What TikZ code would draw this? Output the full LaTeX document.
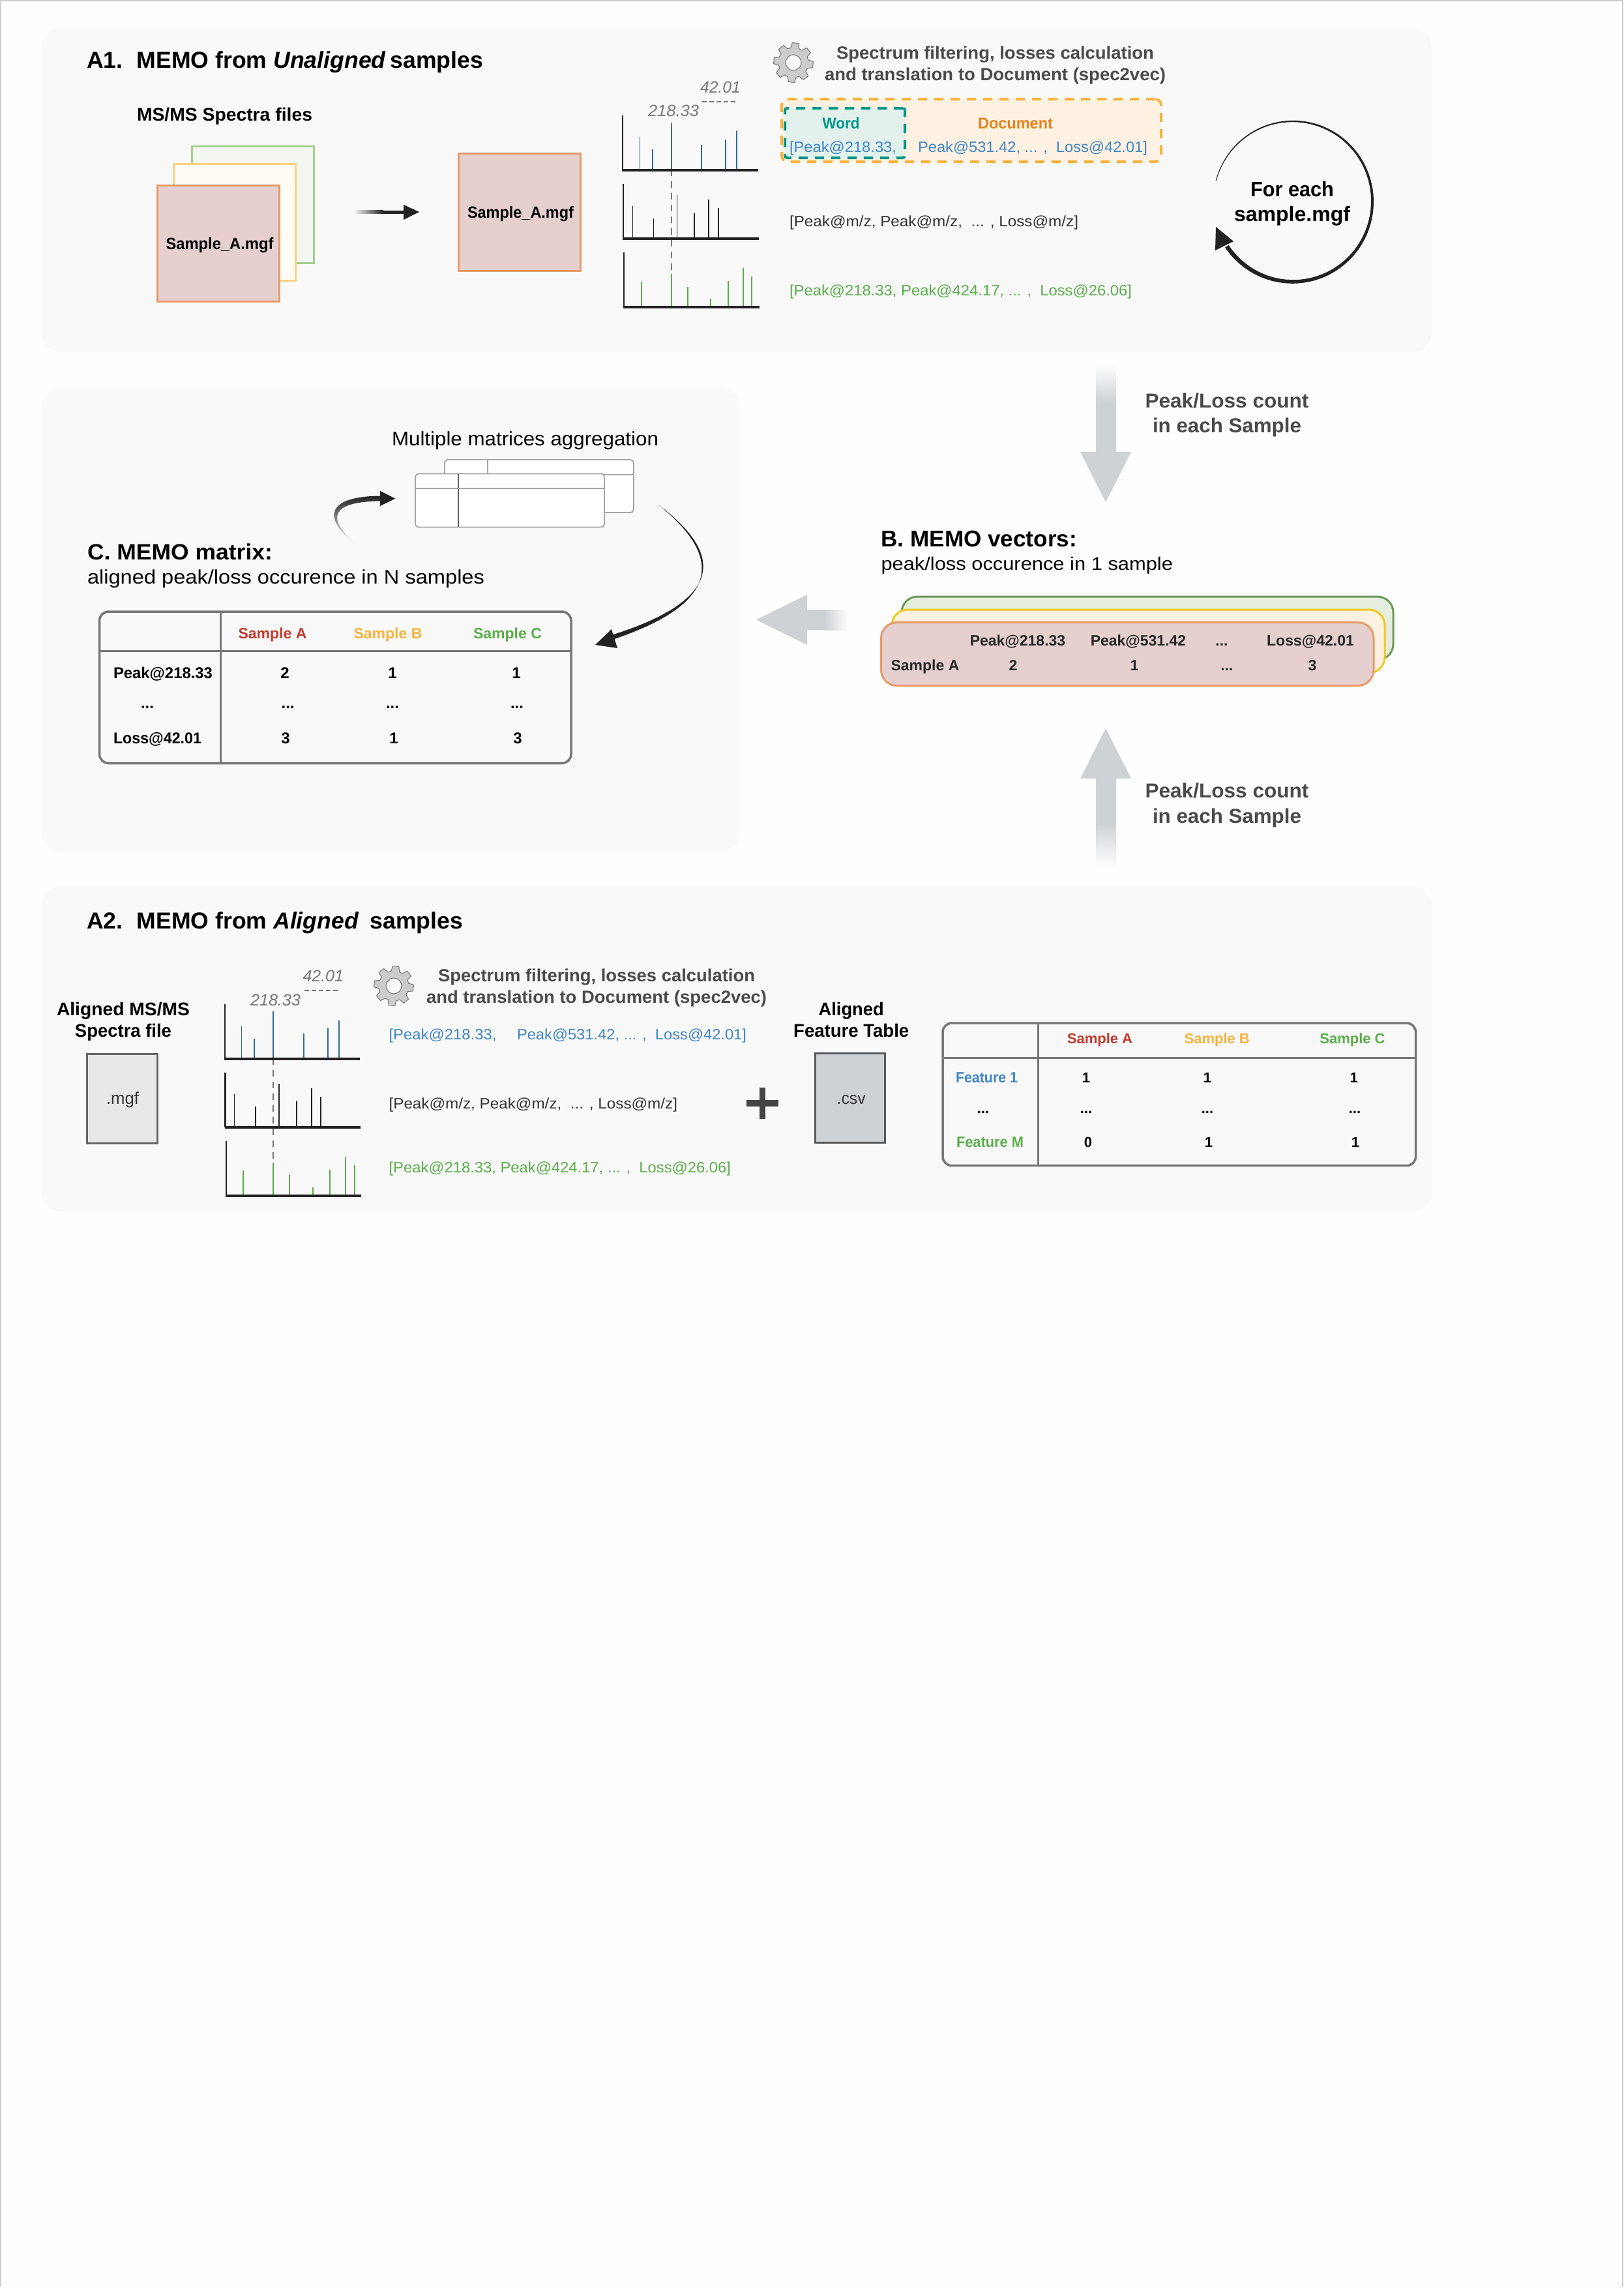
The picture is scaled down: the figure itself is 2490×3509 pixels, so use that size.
\documentclass[tikz,border=0pt]{standalone}
\usepackage{fontspec}
\usepackage{graphicx}
\setmainfont{Liberation Sans}
\usetikzlibrary{calc}
\definecolor{pagebg}{HTML}{FEFEFE}
\definecolor{panelbg}{HTML}{F9F9F9}
\definecolor{framec}{HTML}{CCCCCC}
\definecolor{inkd}{HTML}{222222}
\definecolor{txtg}{HTML}{4A4A4A}
\definecolor{numg}{HTML}{777777}
\definecolor{arrowg}{HTML}{CED2D5}
\definecolor{redf}{HTML}{E5CFCF}
\definecolor{reds}{HTML}{E89A68}
\definecolor{yelf}{HTML}{FEFCF5}
\definecolor{yels}{HTML}{F6D27E}
\definecolor{grnf}{HTML}{F4F7F0}
\definecolor{grns}{HTML}{A5D08E}
\definecolor{docf}{HTML}{FDF1E1}
\definecolor{docs}{HTML}{F7B23E}
\definecolor{wordf}{HTML}{E2F1EC}
\definecolor{teal}{HTML}{009688}
\definecolor{orng}{HTML}{E8821E}
\definecolor{blu}{HTML}{3F86C8}
\definecolor{peakb}{HTML}{2F6AA3}
\definecolor{grn}{HTML}{5AAE4A}
\definecolor{samr}{HTML}{C33A2E}
\definecolor{samy}{HTML}{F7B23E}
\definecolor{tabl}{HTML}{777777}
\definecolor{vgf}{HTML}{E6EEE0}
\definecolor{vgs}{HTML}{6A9A5A}
\definecolor{vys}{HTML}{F2C81E}
\newcommand\fs[1]{\fontsize{#1}{#1}\selectfont}
\newcommand\threedots{...}
\tikzset{
 txt/.style={anchor=base west,inner sep=0pt,outer sep=0pt},
 ctxt/.style={anchor=base,inner sep=0pt,outer sep=0pt},
 panel/.style={fill=panelbg,draw=none,rounded corners=30pt},
 file/.style={anchor=north west,inner sep=0pt,outer sep=0pt,line width=3pt,sharp corners},
 redfile/.style={file,fill=redf,draw=reds},
 yelfile/.style={file,fill=yelf,draw=yels},
 grnfile/.style={file,fill=grnf,draw=grns},
 spaxis/.style={draw=inkd,line width=2.5pt},
 spbase/.style={draw=inkd,line width=3.5pt},
 peakblue/.style={draw=peakb,line width=1.6pt},
 peakblack/.style={draw=inkd,line width=1.6pt},
 peakgreen/.style={draw=grn,line width=1.6pt},
 guide/.style={draw=numg,line width=1.3pt,dash pattern=on 10pt off 8pt},
 guideb/.style={draw=numg,line width=1.6pt,dash pattern=on 7pt off 4pt},
 datatab/.style={anchor=north west,inner sep=0pt,outer sep=0pt,draw=tabl,line width=3.5pt,rounded corners=14pt},
 tabline/.style={draw=tabl,line width=3pt},
 cell/.style={ctxt,font=\fs{24}\bfseries},
 cellh/.style={ctxt,font=\fs{23}\bfseries},
 cellb/.style={ctxt,font=\fs{22}\bfseries},
 vcell/.style={ctxt,font=\fs{23}\bfseries,text=black!85},
 vbox/.style={anchor=north west,inner sep=0pt,outer sep=0pt,line width=3pt,rounded corners=24pt},
 mini/.style={anchor=north west,inner sep=0pt,outer sep=0pt,fill=white,draw=black!35,line width=1.8pt,rounded corners=5pt},
 miniline/.style={draw=black!35,line width=1.8pt},
 gearbody/.style={fill=black!20!white,draw=black!55,line width=1pt},
 gearpic/.pic={
  \path[gearbody] (23:23pt) \foreach \i [evaluate=\i as \a using 39+45*\i] in {0,...,7} {
    -- ({\a-16}:23pt) -- ({\a-9}:30.5pt) -- ({\a+9}:30.5pt) -- ({\a+16}:23pt) } -- cycle;
  \path[fill=panelbg,draw=black!55,line width=1pt] (0,0) circle (12pt);
 }
}
% name, x, y, width, size, text (width is stretched to the printed width)
\newcommand\tx[7][]{\node[txt,font=\fs{#6},#1] (#2) at (#3,#4) {\resizebox{#5pt}{\height}{#7}};}
\newcommand\tc[7][]{\node[ctxt,font=\fs{#6},#1] (#2) at (#3,#4) {\resizebox{#5pt}{\height}{#7}};}
\begin{document}
\begin{tikzpicture}[x=1pt,y=-1pt]
\useasboundingbox (0,0) rectangle (2490,3509);
\fill[pagebg] (0,0) rectangle (2490,3509);
\draw[framec,line width=2pt] (1,3507) -- (1,1) -- (2489,1) -- (2489,3507);
% panels
\fill[panel] (64,42) rectangle (2196,540);
\fill[panel] (64,594) rectangle (1134,1307);
\fill[panel] (64,1360) rectangle (2196,1858);

%% ---------- A1 ----------
\tx[text=black]{titleA}{133}{104}{608}{35.5}{\bfseries A1.\hspace{0.6em}MEMO from \textit{Unaligned}\hspace{-0.1em} samples}
\tx{msfiles}{210}{185.5}{269}{28}{\bfseries MS/MS Spectra files}
\node[grnfile,minimum width=187pt,minimum height=179pt] (fileC) at (294,224) {};
\node[yelfile,minimum width=187pt,minimum height=179pt] (fileB) at (266,251) {};
\node[redfile,minimum width=187pt,minimum height=178pt] (fileA) at (241,284) {};
\tx{fileAt}{254.5}{382}{165}{25}{\bfseries Sample\_A.mgf}
\node[redfile,minimum width=187pt,minimum height=180pt] (fileOne) at (703,235.5) {};
\tx{fileOnet}{717}{334}{163}{25}{\bfseries Sample\_A.mgf}
\coordinate (arrS) at (543,325);
\coordinate (arrM) at (620,325);
\coordinate (arrT) at (643,325);
\shade[left color=panelbg,right color=inkd] ($(arrS)+(0,-2.5)$) rectangle ($(arrS)+(45,2.5)$);
\fill[inkd] ($(arrS)+(44,-2.5)$) rectangle ($(arrM)+(1,2.5)$);
\fill[inkd] (arrT) -- (619,314) -- (619,337) -- cycle;
% spectra A1
\draw[guide] (1030,188) -- (1030,422);
\foreach \x/\t in {981.6/210,1001/229,1030/194,1076/222,1113/214,1130/201} \draw[peakblue] (\x,260) -- (\x,\t);
\foreach \x/\t in {970.5/315.5,1002.6/334.5,1038.5/299,1065/327,1087/306,1102/318.6} \draw[peakblack] (\x,366) -- (\x,\t);
\foreach \x/\t in {984/432,1030/420,1055/440,1090/458,1117/431,1140/411,1153/424} \draw[peakgreen] (\x,471) -- (\x,\t);
\draw[spaxis] (955,177) -- (955,261);
\draw[spbase] (954,261) -- (1163,261);
\draw[spaxis] (956,282) -- (956,366);
\draw[spbase] (955,366) -- (1164,366);
\draw[spaxis] (957,387) -- (957,471);
\draw[spbase] (956,471) -- (1165,471);
\tx[text=numg]{mzA}{994}{178.6}{78}{25}{\itshape 218.33}
\tx[text=numg]{lossA}{1074}{142}{62}{25}{\itshape 42.01}
\draw[guideb] (1077,156) -- (1129,156);
\pic (gearA) at (1217,96) {gearpic};
\tx[text=txtg]{filtA1}{1283}{90.7}{487}{27}{\bfseries Spectrum filtering, losses calculation}
\tx[text=txtg]{filtA2}{1265}{123.4}{523}{27}{\bfseries and translation to Document (spec2vec)}
\node[anchor=north west,inner sep=0pt,outer sep=0pt,fill=docf,draw=docs,line width=4pt,dash pattern=on 14pt off 11pt,rounded corners=9pt,minimum width=582pt,minimum height=96pt] (docBox) at (1199,152) {};
\node[anchor=north west,inner sep=0pt,outer sep=0pt,fill=wordf,draw=teal,line width=4pt,dash pattern=on 14pt off 11pt,rounded corners=3pt,minimum width=184pt,minimum height=76pt] (wordBox) at (1204,166) {};
\tc[text=teal]{wordt}{1290}{197.6}{57}{24}{\bfseries Word}
\tc[text=orng]{doct}{1557.5}{197.6}{115}{24}{\bfseries Document}
\tx[text=blu]{w1}{1211}{233}{164}{23}{[Peak@218.33,}
\tx[text=blu]{w2}{1408}{233}{352}{23}{Peak@531.42, ... ,\ \ Loss@42.01]}
\tx[text=black!80]{w3}{1211}{347.6}{443}{23}{[Peak@m/z, Peak@m/z,\ \ ... , Loss@m/z]}
\tx[text=grn]{w4}{1211}{453}{525}{23}{[Peak@218.33, Peak@424.17, ... ,\ \ Loss@26.06]}
% loop arrow
\fill[inkd] plot[domain=165:-146,samples=90,smooth] ({1983+(122+(0.5+2.8*(165-\x)/311))*cos(\x)},{309-(123+(0.5+2.8*(165-\x)/311))*sin(\x)})
  -- plot[domain=-146:165,samples=90,smooth] ({1983+(122-(0.5+2.8*(165-\x)/311))*cos(\x)},{309-(123-(0.5+2.8*(165-\x)/311))*sin(\x)}) -- cycle;
\coordinate (loopT) at (1865,348);
\fill[inkd] (loopT) -- (1892,370) -- (1864,384) -- cycle;
\tc{loop1}{1982}{301}{128}{32}{\bfseries For each}
\tc{loop2}{1982}{339}{178}{32}{\bfseries sample.mgf}

%% ---------- big arrows ----------
\shade[top color=pagebg,bottom color=arrowg] (1681,558) rectangle (1712,617);
\fill[arrowg] (1681,616) -- (1712,616) -- (1712,693) -- (1735,693) -- (1696,770) -- (1657,693) -- (1681,693) -- cycle;
\tc[text=txtg]{cnt1}{1882}{625.5}{251}{31}{\bfseries Peak/Loss count}
\tc[text=txtg]{cnt2}{1882}{663}{228}{31}{\bfseries in each Sample}
\shade[left color=arrowg,right color=pagebg] (1264,935) rectangle (1302,966);
\fill[arrowg] (1265,935) -- (1265,966) -- (1238,966) -- (1238,989) -- (1160,950.5) -- (1238,912) -- (1238,935) -- cycle;
\shade[bottom color=pagebg,top color=arrowg] (1681,1263) rectangle (1712,1330);
\fill[arrowg] (1681,1264) -- (1712,1264) -- (1712,1194) -- (1735,1194) -- (1696,1117) -- (1657,1194) -- (1681,1194) -- cycle;
\tc[text=txtg]{cnt3}{1882}{1223.5}{251}{31}{\bfseries Peak/Loss count}
\tc[text=txtg]{cnt4}{1882}{1262}{228}{31}{\bfseries in each Sample}

%% ---------- B ----------
\tx{titleB}{1351.5}{838}{300.5}{35}{\bfseries B. MEMO vectors:}
\tx{subB}{1351.5}{874}{447.5}{28}{peak/loss occurence in 1 sample}
\node[vbox,fill=vgf,draw=vgs,minimum width=754pt,minimum height=97pt] (vecC) at (1383,915) {};
\node[vbox,fill=docf,draw=vys,minimum width=756pt,minimum height=97pt] (vecB) at (1368,935) {};
\node[vbox,fill=redf,draw=reds,minimum width=755.5pt,minimum height=97pt] (vecA) at (1351.5,954.6) {};
\foreach \n/\x/\s in {a/1561/Peak@218.33,b/1746/Peak@531.42,c/1874/\threedots,d/2010/Loss@42.01}
  \node[vcell] (vh\n) at (\x,990) {\s};
\foreach \n/\x/\s in {a/1419/Sample A,b/1554/2,c/1740/1,d/1882/\threedots,e/2013/3}
  \node[vcell] (vr\n) at (\x,1028.6) {\s};

%% ---------- C ----------
\tx{multi}{601}{683}{409}{30}{Multiple matrices aggregation}
\node[mini,minimum width=290pt,minimum height=81pt] (miniB) at (682,705) {};
\draw[miniline] (748,705) -- (748,786);
\draw[miniline] (682,728) -- (972,728);
\node[mini,minimum width=290pt,minimum height=82pt] (miniA) at (637,726.5) {};
\draw[miniline,draw=black!60] (702.6,726.5) -- (702.6,808);
\draw[miniline] (637,749) -- (927,749);
% aggregation arrows
\coordinate (inS) at (546,835);
\shade[top color=inkd,middle color=inkd,bottom color=panelbg] (inS) .. controls (494,795) and (499,761) .. (585,760.5) -- (585,768.5) .. controls (506,769) and (500,795) .. (inS) -- cycle;
\fill[inkd] (606.5,764.6) -- (583,753) -- (583,776) -- cycle;
\coordinate (outS) at (1011,775);
\fill[inkd] (outS) .. controls (1090,835) and (1136,912) .. (938,974) -- (942,980) .. controls (1132,916) and (1087,837) .. (outS) -- cycle;
\fill[inkd] (913,989) -- (938,965) -- (947,994) -- cycle;
\tx{titleC}{134}{858.6}{284}{34}{\bfseries C. MEMO matrix:}
\tx{subC}{134}{895}{609}{30}{aligned peak/loss occurence in N samples}
\node[datatab,minimum width=723.5pt,minimum height=232.5pt] (tabC) at (152.5,938) {};
\draw[tabline] (338,938) -- (338,1170.5);
\draw[tabline] (152.5,998) -- (876,998);
\node[cellh,text=samr] (cA) at (418,979) {Sample A};
\node[cellh,text=samy] (cB) at (595,979) {Sample B};
\node[cellh,text=grn] (cC) at (778.5,979) {Sample C};
\tx{cr1}{174}{1040}{152}{24}{\bfseries Peak@218.33}
\tx{cr3}{174}{1140}{135}{24}{\bfseries Loss@42.01}
\node[cell] (cr2) at (226,1086) {...};
\foreach \n/\x/\y/\s in {a/437/1040/2,b/602/1040/1,c/792/1040/1,d/441.6/1086/\threedots,e/602/1086/\threedots,f/793/1086/\threedots,g/438/1140/3,h/604/1140/1,i/794/1140/3}
  \node[cell] (cv\n) at (\x,\y) {\s};

%% ---------- A2 ----------
\tx{titleA2}{133}{1424}{577}{35.5}{\bfseries A2.\hspace{0.6em}MEMO from \textit{Aligned}\hspace{0.2em} samples}
\tc{al1}{189}{1557}{204}{28}{\bfseries Aligned MS/MS}
\tc{al2}{189}{1590}{148}{28}{\bfseries Spectra file}
\node[file,fill=black!9,draw=black!60,line width=3pt,minimum width=108pt,minimum height=137pt] (mgfBox) at (133,1616) {};
\tc[text=black!80]{mgft}{188}{1693}{50}{26}{.mgf}
\draw[guide] (419,1551) -- (419,1787);
\foreach \x/\t in {370.6/1574,389.7/1592.7,419/1551,466/1585,502.7/1577,520/1564.7} \draw[peakblue] (\x,1624) -- (\x,\t);
\foreach \x/\t in {359.6/1678,392/1697,428/1662,455/1689,477.7/1669,491.7/1682} \draw[peakblack] (\x,1729) -- (\x,\t);
\foreach \x/\t in {373/1795,419/1783,444/1802,480/1821,506/1794,530/1774,544/1787} \draw[peakgreen] (\x,1834) -- (\x,\t);
\draw[spaxis] (345,1540) -- (345,1624);
\draw[spbase] (344,1624) -- (552,1624);
\draw[spaxis] (345.7,1645) -- (345.7,1729);
\draw[spbase] (345,1729) -- (553,1729);
\draw[spaxis] (347,1750) -- (347,1834);
\draw[spbase] (346,1834) -- (553.5,1834);
\tx[text=numg]{mzB}{384}{1542}{77}{25}{\itshape 218.33}
\tx[text=numg]{lossB}{464.5}{1505.7}{62.5}{25}{\itshape 42.01}
\draw[guideb] (467,1519) -- (520,1519);
\pic (gearB) at (604,1512) {gearpic};
\tx[text=txtg]{filtB1}{672}{1505}{486}{27}{\bfseries Spectrum filtering, losses calculation}
\tx[text=txtg]{filtB2}{654}{1538}{522}{27}{\bfseries and translation to Document (spec2vec)}
\tx[text=blu]{b1}{596.6}{1594}{165}{23}{[Peak@218.33,}
\tx[text=blu]{b2}{793}{1594}{352}{23}{Peak@531.42, ... ,\ \ Loss@42.01]}
\tx[text=black!80]{b3}{596.6}{1700}{442.4}{23}{[Peak@m/z, Peak@m/z,\ \ ... , Loss@m/z]}
\tx[text=grn]{b4}{596.6}{1798}{524.4}{23}{[Peak@218.33, Peak@424.17, ... ,\ \ Loss@26.06]}
\fill[black!73] (1165,1668) rectangle (1174,1716);
\fill[black!73] (1145,1687) rectangle (1193.6,1697);
\tc{ft1}{1305.7}{1557}{100}{28}{\bfseries Aligned}
\tc{ft2}{1305.7}{1590}{177}{28}{\bfseries Feature Table}
\node[file,fill=arrowg,draw=black!65,line width=3pt,minimum width=107pt,minimum height=137pt] (csvBox) at (1250,1615.7) {};
\tc[text=black!80]{csvt}{1305.7}{1693}{44}{26}{.csv}
\node[datatab,minimum width=725.6pt,minimum height=218.7pt] (tabF) at (1446,1569) {};
\draw[tabline] (1592,1569) -- (1592,1787.7);
\draw[tabline] (1446,1622) -- (2171.6,1622);
\node[cellb,text=samr] (fA) at (1687,1600) {Sample A};
\node[cellb,text=samy] (fB) at (1866.7,1600) {Sample B};
\node[cellb,text=grn] (fC) at (2074.5,1600) {Sample C};
\tx[text=blu]{fr1}{1466}{1660}{95}{23}{\bfseries Feature 1}
\tx[text=grn]{fr3}{1467}{1759}{103}{23}{\bfseries Feature M}
\node[cellb] (fr2) at (1508,1707) {...};
\foreach \n/\x/\y/\s in {a/1666/1660/1,b/1852/1660/1,c/2076.6/1660/1,d/1666/1707/\threedots,e/1852/1707/\threedots,f/2078/1707/\threedots,g/1669/1759/0,h/1854/1759/1,i/2079/1759/1}
  \node[cellb] (fv\n) at (\x,\y) {\s};
\end{tikzpicture}
\end{document}
